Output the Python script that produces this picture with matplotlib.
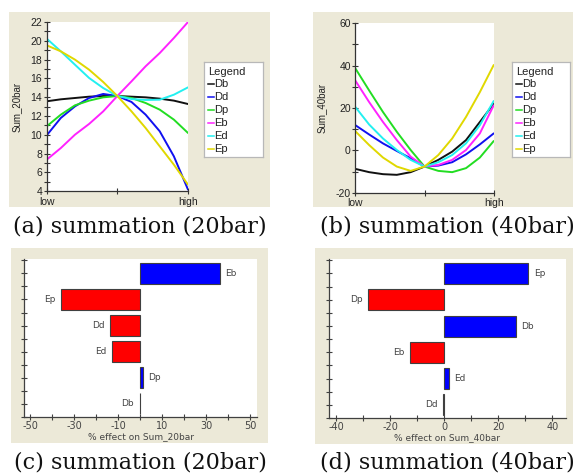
"""
Perturbation plots (a, b) and % effect bar charts (c, d)
for Sum_20bar / Sum_40bar, 573x476 px
"""
import matplotlib
matplotlib.use('Agg')
import matplotlib.pyplot as plt
import matplotlib.patches as mpatches
from matplotlib.lines import Line2D
from matplotlib.ticker import MultipleLocator

plt.rcParams['axes.unicode_minus'] = False

W, H = 573, 476
DPI = 100
BEIGE = '#ECE9D8'
TXT = '#222222'
SANS = ['Liberation Sans', 'DejaVu Sans']

# ── data ─────────────────────────────────────────────────────────────────────
factors = ['Db', 'Dd', 'Dp', 'Eb', 'Ed', 'Ep']
line_colors = ['#111111', '#1010F0', '#22DD22', '#FF22FF', '#22F0F0', '#E0D800']

# coded factor level, low (-1) .. high (+1)
x_coded = [-1.0, -0.8, -0.6, -0.4, -0.2, 0.0, 0.2, 0.4, 0.6, 0.8, 1.0]

sum20 = {
    'Db': [13.57, 13.78, 13.92, 14.06, 14.13, 14.13, 14.06, 13.99, 13.85, 13.64, 13.28],
    'Dd': [9.95, 11.80, 13.03, 13.92, 14.35, 14.13, 13.50, 12.15, 10.38, 7.72, 4.18],
    'Dp': [10.91, 12.15, 13.14, 13.64, 13.99, 14.13, 13.92, 13.39, 12.68, 11.62, 10.20],
    'Eb': [7.36, 8.60, 10.02, 11.16, 12.50, 14.13, 15.69, 17.29, 18.70, 20.30, 22.00],
    'Ed': [20.23, 18.88, 17.46, 16.05, 14.98, 14.13, 13.81, 13.71, 13.74, 14.27, 15.05],
    'Ep': [19.52, 18.88, 18.00, 16.93, 15.62, 14.13, 12.50, 10.73, 8.78, 6.83, 4.71],
}

sum40 = {
    'Db': [-8.75, -10.3, -11.25, -11.56, -10.3, -7.66, -4.5, -0.6, 4.84, 13.4, 22.0],
    'Dd': [11.9, 7.5, 3.28, -0.3, -3.75, -7.66, -7.2, -5.6, -1.9, 2.8, 8.0],
    'Dp': [38.75, 28.3, 18.1, 8.75, 0.16, -7.66, -9.7, -10.3, -8.4, -3.4, 4.4],
    'Eb': [32.97, 22.8, 13.4, 4.84, -2.97, -7.66, -6.9, -4.5, 0.16, 8.0, 21.25],
    'Ed': [20.5, 12.2, 5.6, 0.16, -4.5, -7.66, -5.6, -2.2, 3.3, 11.9, 23.3],
    'Ep': [9.06, 2.5, -3.4, -7.66, -9.7, -7.66, -2.2, 5.6, 15.8, 27.5, 40.3],
}

# % effect, listed top to bottom as in the chart
eff20_names = ['Eb', 'Ep', 'Dd', 'Ed', 'Dp', 'Db']
eff20_vals = [36.0, -36.0, -13.6, -12.9, 1.2, -0.3]
eff40_names = ['Ep', 'Dp', 'Db', 'Eb', 'Ed', 'Dd']
eff40_vals = [31.1, -28.1, 26.5, -12.5, 1.7, -0.3]

captions = ['(a) summation (20bar)', '(b) summation (40bar)',
            '(c) summation (20bar)', '(d) summation (40bar)']


def rect(x0, y0, x1, y1):
    """pixel box (top-left origin) -> figure fraction rect"""
    return [x0 / W, 1 - y1 / H, (x1 - x0) / W, (y1 - y0) / H]


fig = plt.figure(figsize=(W / DPI, H / DPI), dpi=DPI)
fig.patch.set_facecolor('white')


def beige(x0, y0, x1, y1):
    r = rect(x0, y0, x1, y1)
    fig.patches.append(mpatches.Rectangle((r[0], r[1]), r[2], r[3],
                                          transform=fig.transFigure,
                                          facecolor=BEIGE, edgecolor='none',
                                          zorder=-10))


# ── perturbation line plots ──────────────────────────────────────────────────
def line_panel(box, data, ylim, major, minor, ylabel, ylab_x, leg_box):
    ax = fig.add_axes(rect(*box))
    ax.set_zorder(2)
    ax.set_facecolor('white')
    for name, col in zip(factors, line_colors):
        ax.plot(x_coded, data[name], color=col, lw=1.4, solid_capstyle='round')
    ax.set_xlim(-1, 1)
    ax.set_ylim(*ylim)
    ax.set_xticks([-1, 0, 1])
    ax.set_xticklabels(['low', '', 'high'])
    ax.yaxis.set_major_locator(MultipleLocator(major))
    ax.yaxis.set_minor_locator(MultipleLocator(minor))
    for s in ('top', 'right'):
        ax.spines[s].set_visible(False)
    for s in ('left', 'bottom'):
        ax.spines[s].set_color('#333333')
        ax.spines[s].set_linewidth(0.9)
    ax.tick_params(which='both', direction='inout', length=4.5, width=0.8,
                   colors='#333333', labelcolor=TXT, labelsize=7.5, pad=1)
    ax.tick_params(axis='x', pad=1.5)
    for lbl in ax.get_xticklabels() + ax.get_yticklabels():
        lbl.set_family(SANS)
    ax.set_ylabel(ylabel, fontsize=7, family=SANS, color=TXT)
    ax.yaxis.set_label_coords(ylab_x, 0.5)

    # legend box
    lx0, ly0, lx1, ly1 = leg_box
    lg = fig.add_axes(rect(lx0, ly0, lx1, ly1))
    lg.set_zorder(2)
    lg.set_xlim(lx0, lx1)
    lg.set_ylim(ly1, ly0)
    lg.set_xticks([])
    lg.set_yticks([])
    lg.set_facecolor('white')
    for s in lg.spines.values():
        s.set_color('#B8B8B8')
        s.set_linewidth(0.9)
    lg.text(lx0 + 4, ly0 + 10, 'Legend', fontsize=8, family=SANS, color=TXT,
            va='center', ha='left')
    for i, (name, col) in enumerate(zip(factors, line_colors)):
        yy = ly0 + 22.5 + i * 13.0
        lg.add_line(Line2D([lx0 + 4, lx0 + 10], [yy, yy], color=col, lw=1.1))
        lg.text(lx0 + 10.5, yy, name, fontsize=8, family=SANS, color=TXT,
                va='center', ha='left')
    return ax


beige(9, 12, 270, 207)
beige(313, 12, 573, 207)
line_panel((46.7, 22, 188, 191.3), sum20, (4, 22), 2, 1, 'Sum_20bar',
           (22 - 46.7) / (188 - 46.7), (204, 62, 263, 157))
line_panel((355.3, 23.3, 493.7, 192.7), sum40, (-20, 60), 20, 10, 'Sum_40bar',
           (327 - 355.3) / (493.7 - 355.3), (512, 62, 570, 157))


# ── % effect bar charts ──────────────────────────────────────────────────────
def bar_panel(box, names, vals, xlim, major, minor, xlabel):
    ax = fig.add_axes(rect(*box))
    ax.set_zorder(2)
    ax.set_facecolor('white')
    pos = list(range(len(names)))
    cols = []
    for v in vals:
        if abs(v) < 0.5:
            cols.append('#808080')
        elif v > 0:
            cols.append('#0000FF')
        else:
            cols.append('#FF0000')
    ax.barh(pos, vals, height=0.8, color=cols, edgecolor='#404040',
            linewidth=0.8, zorder=3)
    for p, v, n in zip(pos, vals, names):
        if v >= 0:
            ax.annotate(n, (v, p), xytext=(4, 0), textcoords='offset points',
                        ha='left', va='center', fontsize=6.5, color='#444444')
        else:
            ax.annotate(n, (v, p), xytext=(-4, 0), textcoords='offset points',
                        ha='right', va='center', fontsize=6.5, color='#444444')
    ax.set_xlim(*xlim)
    ax.set_ylim(len(names) - 0.5, -0.55)
    ax.xaxis.set_major_locator(MultipleLocator(major))
    ax.xaxis.set_minor_locator(MultipleLocator(minor))
    ax.yaxis.set_major_locator(MultipleLocator(0.5))
    ax.set_yticklabels([])
    for s in ('top', 'right'):
        ax.spines[s].set_visible(False)
    for s in ('left', 'bottom'):
        ax.spines[s].set_color('#404040')
        ax.spines[s].set_linewidth(0.9)
    ax.tick_params(which='both', direction='inout', length=4, width=0.8,
                   colors='#404040', labelcolor='#444444', labelsize=7, pad=1)
    ax.set_xlabel(xlabel, fontsize=6.5, color='#444444', labelpad=1)
    return ax


beige(11, 248, 268, 443)
beige(315, 248, 573, 444)
ax_c = bar_panel((24.3, 259, 257, 417), eff20_names, eff20_vals, (-52.6, 53),
                 20, 10, '% effect on Sum_20bar')
ax_c.set_xticks([-50, -30, -10, 10, 30, 50])
ax_c.xaxis.set_minor_locator(MultipleLocator(10))
ax_d = bar_panel((329, 259, 566, 418), eff40_names, eff40_vals, (-42.6, 45),
                 20, 10, '% effect on Sum_40bar')

# ── captions ─────────────────────────────────────────────────────────────────
cap_pos = [(140, 226), (447, 226), (140, 462), (447, 462)]
for (cx, cy), txt in zip(cap_pos, captions):
    fig.text(cx / W, 1 - cy / H, txt, ha='center', va='center',
             fontsize=16, family='DejaVu Serif', color='#111111')

plt.savefig('out.png', dpi=DPI, facecolor='white')
plt.close()
